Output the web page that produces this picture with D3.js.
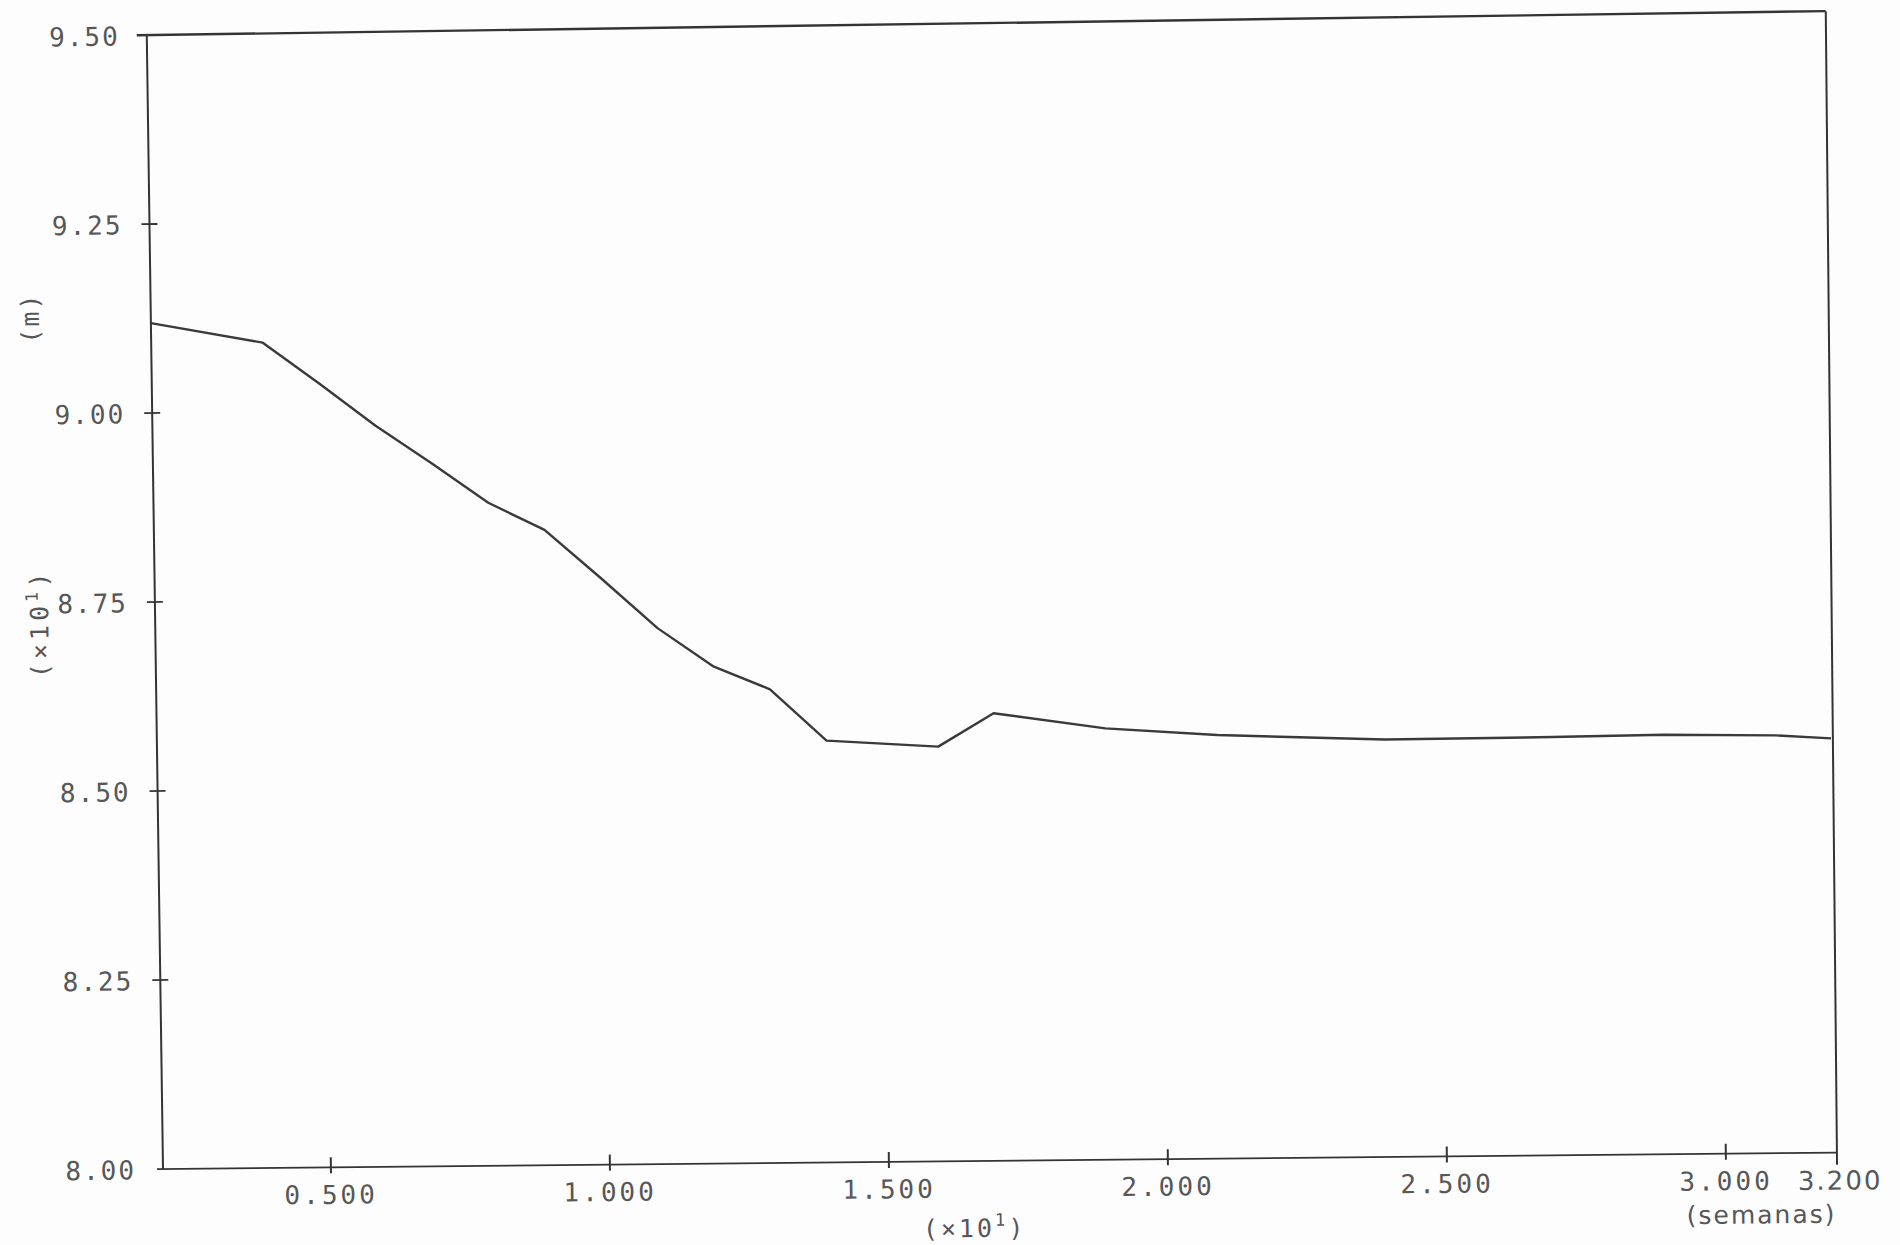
<!DOCTYPE html>
<html><head><meta charset="utf-8">
<script src="https://cdn.jsdelivr.net/npm/d3@7"></script>
<style>
html,body{margin:0;padding:0;background:#fdfdfd;}
svg{display:block;}
</style></head><body>
<svg id="chart" width="1900" height="1245"></svg>
<script>
// Data (x in units of x10^1 weeks, y in units of x10^1 m)
const weeks  = [0.2, 0.4, 0.5, 0.6, 0.7, 0.8, 0.9, 1.0, 1.1, 1.2, 1.3, 1.4, 1.6, 1.7, 1.9, 2.1, 2.4, 2.7, 2.9, 3.1, 3.2];
const levels = [9.119, 9.091, 9.036, 8.979, 8.928, 8.875, 8.838, 8.773, 8.706, 8.654, 8.623, 8.554, 8.544, 8.587, 8.565, 8.554, 8.545, 8.545, 8.546, 8.543, 8.538];
const xTicks = [0.5, 1.0, 1.5, 2.0, 2.5, 3.0];
const xTickLabels = ["0.500", "1.000", "1.500", "2.000", "2.500", "3.000"];
const xEndValue = 3.2;
const xEndLabel = "3.200";
const yTicks = [8.0, 8.25, 8.5, 8.75, 9.0, 9.25, 9.5];
const yTickLabels = ["8.00", "8.25", "8.50", "8.75", "9.00", "9.25", "9.50"];
const yCrossTicks = [8.25, 8.5, 8.75, 9.0, 9.25];
const xDomain = [0.2, 3.2];
const yDomain = [8.0, 9.5];
const multTitle = "(\u00d710";
const yTitleUnit = "(m)";
const xUnit = "(semanas)";

const W = 1674, H = 1134;
const ink = "#343434", txt = "#575757";
const mono = "'DejaVu Sans Mono', monospace";
const sans = "'DejaVu Sans', sans-serif";

const svg = d3.select("#chart");
svg.append("rect").attr("width", 1900).attr("height", 1245).attr("fill", "#fdfdfd");

// The scanned plot is slightly rotated: the vertical frame/data group and the
// bottom axis group get slightly different tilts to follow the original page.
const g = svg.append("g").attr("transform", "translate(163,1169) rotate(-0.82)");
const gb = svg.append("g").attr("transform", "translate(163,1169) rotate(-0.56)");

const x = d3.scaleLinear().domain(xDomain).range([0, W]);
const y = d3.scaleLinear().domain(yDomain).range([0, -H]);

// Frame: top + left in main group
g.append("line").attr("x1", -10).attr("x2", x(xDomain[1]) + 5).attr("y1", y(yDomain[1])).attr("y2", y(yDomain[1]))
  .attr("stroke", ink).attr("stroke-width", 2.4);
g.append("line").attr("x1", 0).attr("x2", 0).attr("y1", y(yDomain[1])).attr("y2", y(yDomain[0]))
  .attr("stroke", ink).attr("stroke-width", 2);

// Frame: bottom + right in bottom group
gb.append("line").attr("x1", -6).attr("x2", x(xDomain[1])).attr("y1", y(yDomain[0])).attr("y2", y(yDomain[0]))
  .attr("stroke", ink).attr("stroke-width", 1.8);
gb.append("line").attr("x1", x(xDomain[1])).attr("x2", x(xDomain[1])).attr("y1", y(yDomain[1]) - 7.5).attr("y2", y(yDomain[0]) + 12)
  .attr("stroke", ink).attr("stroke-width", 2);

// Y axis labels
const yAxis = d3.axisLeft(y).tickValues(yTicks).tickSize(0).tickPadding(27)
  .tickFormat((d, i) => yTickLabels[i]);
const ya = g.append("g").call(yAxis);
ya.select(".domain").remove();
ya.selectAll("text").attr("font-family", mono).attr("font-size", 26)
  .attr("letter-spacing", 2).attr("fill", txt).attr("dy", "0.36em");

// Y cross ticks
g.append("g").selectAll("line").data(yCrossTicks).join("line")
  .attr("x1", -8).attr("x2", 8).attr("y1", d => y(d)).attr("y2", d => y(d))
  .attr("stroke", ink).attr("stroke-width", 1.8);

// X axis
const xAxis = d3.axisBottom(x).tickValues(xTicks).tickSizeInner(6).tickSizeOuter(0).tickPadding(12)
  .tickFormat((d, i) => xTickLabels[i]);
const xa = gb.append("g").call(xAxis);
xa.select(".domain").remove();
xa.selectAll(".tick line").attr("y1", -10).attr("y2", 6).attr("stroke", ink).attr("stroke-width", 2);
xa.selectAll("text").attr("font-family", mono).attr("font-size", 26)
  .attr("letter-spacing", 3).attr("fill", txt);

// End label 3.200
gb.append("text").attr("x", x(xEndValue) + 3).attr("y", 37)
  .attr("text-anchor", "middle").attr("font-family", sans).attr("font-size", 26)
  .attr("letter-spacing", 2).attr("fill", txt).text(xEndLabel);

// x unit
gb.append("text").attr("x", x(xEndValue) - 76).attr("y", 70)
  .attr("text-anchor", "middle").attr("font-family", sans).attr("font-size", 25)
  .attr("letter-spacing", 2).attr("fill", txt).text(xUnit);

// x multiplier title
const xt = gb.append("text").attr("x", W / 2 - 26).attr("y", 76)
  .attr("text-anchor", "middle").attr("font-family", mono).attr("font-size", 25)
  .attr("letter-spacing", 3).attr("fill", txt);
xt.append("tspan").text(multTitle);
xt.append("tspan").attr("font-size", 17).attr("dy", -11).text("1");
xt.append("tspan").attr("dy", 11).text(")");

// y titles (rotated)
g.append("text").attr("transform", `translate(-121,${y(9.128)}) rotate(-90)`)
  .attr("text-anchor", "middle").attr("dy", "0.36em").attr("font-family", mono).attr("font-size", 25)
  .attr("letter-spacing", 2).attr("fill", txt).text(yTitleUnit);
const yt = g.append("text").attr("transform", `translate(-116,${y(8.724)}) rotate(-90)`)
  .attr("text-anchor", "middle").attr("dy", "0.36em").attr("font-family", mono).attr("font-size", 25)
  .attr("letter-spacing", 4).attr("fill", txt);
yt.append("tspan").text(multTitle);
yt.append("tspan").attr("font-size", 17).attr("dy", -10).text("1");
yt.append("tspan").attr("dy", 10).text(")");

// Data line
const pts = weeks.map((w, i) => [w, levels[i]]);
g.append("path").datum(pts)
  .attr("d", d3.line().x(d => x(d[0])).y(d => y(d[1])))
  .attr("fill", "none").attr("stroke", "#3a3a3a").attr("stroke-width", 2.4)
  .attr("stroke-linejoin", "round");
</script>
</body></html>
